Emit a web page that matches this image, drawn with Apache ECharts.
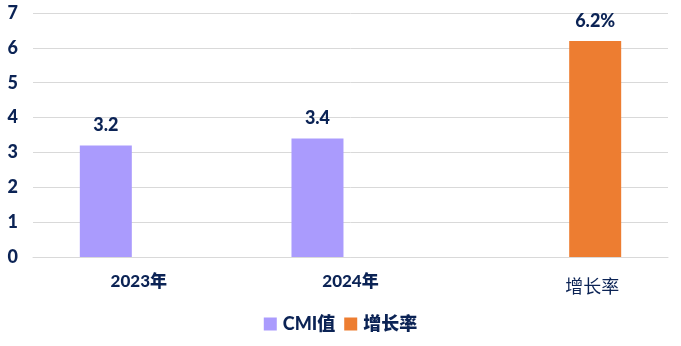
<!DOCTYPE html>
<html><head><meta charset="utf-8">
<script src="https://cdn.jsdelivr.net/npm/echarts@6/dist/echarts.min.js"></script>
<style>html,body{margin:0;padding:0;background:#fff}#c{width:681px;height:346px}</style>
</head><body><div id="c"></div>
<script>
var categories = ['2023年', '2024年', '增长率'];
var cmiValues = [3.2, 3.4, null];
var growthValues = [null, null, 6.2];
var yTicks = [0, 1, 2, 3, 4, 5, 6, 7];
var seriesNames = ['CMI值', '增长率'];

var txt = '#0b2355';
var ff = 'Lato, "Noto Sans CJK SC", sans-serif';
var chart = echarts.init(document.getElementById('c'));
chart.setOption({
  animation: false,
  textStyle: {fontFamily: ff},
  grid: {left: 33, right: 13, top: 13, bottom: 89, containLabel: false},
  legend: {
    data: seriesNames, bottom: 8, left: 'center', itemWidth: 13, itemHeight: 13, itemGap: 9,
    icon: 'rect',
    textStyle: {color: txt, fontSize: 18, fontWeight: 900, fontFamily: ff, padding: [0, 0, 0, 1]}
  },
  xAxis: {
    type: 'category', data: categories,
    axisLine: {show: true, lineStyle: {color: '#d9d9d9', width: 1}},
    axisTick: {show: false},
    axisLabel: {
      margin: 16, color: txt, fontSize: 17, fontWeight: 900,
      formatter: function (v, i) { return i === 2 ? '{g|' + v + '}' : v; },
      rich: {g: {fontSize: 18, fontWeight: 'normal', color: txt, padding: [4, 0, 0, 60], fontFamily: '"Noto Sans CJK SC", serif'}}
    }
  },
  yAxis: {
    type: 'value', min: yTicks[0], max: yTicks[yTicks.length - 1], interval: 1,
    axisLine: {show: false}, axisTick: {show: false},
    splitLine: {lineStyle: {color: '#d9d9d9', width: 1}},
    axisLabel: {margin: 15, color: txt, fontSize: 18, fontWeight: 900}
  },
  series: [
    {name: seriesNames[0], type: 'bar', data: cmiValues, barWidth: 52, barGap: '27%',
     itemStyle: {color: '#aa9bfd'},
     label: {show: true, position: 'top', distance: 11, color: txt, fontSize: 18, fontWeight: 900}},
    {name: seriesNames[1], type: 'bar', data: growthValues, barWidth: 52,
     itemStyle: {color: '#ed7d31'},
     label: {show: true, position: 'top', distance: 11, color: txt, fontSize: 18, fontWeight: 900,
       formatter: function (p) { return p.value + '%'; }}}
  ]
});
</script></body></html>
